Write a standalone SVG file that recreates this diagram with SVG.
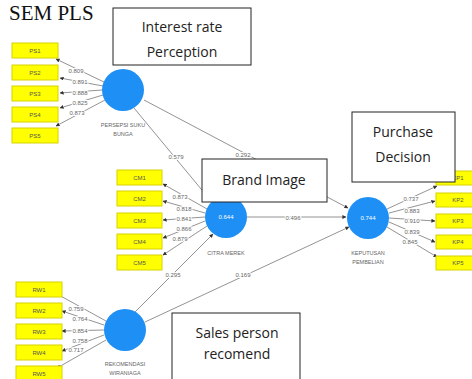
<svg xmlns="http://www.w3.org/2000/svg" width="472" height="379" viewBox="0 0 472 379">
<defs>
<marker id="ah" viewBox="0 0 10 10" refX="9" refY="5" markerWidth="5" markerHeight="5" orient="auto"><path d="M0,0 L10,5 L0,10 z" fill="#333"/></marker>
<style>
.ind rect{fill:#ffff00;stroke:#d6d200;stroke-width:1}
.ind text{font-family:"Liberation Sans",sans-serif;font-size:6px;fill:#555;text-anchor:middle}
.lv circle{fill:#1e8ff5}
.lv text{font-family:"Liberation Sans",sans-serif;font-size:5.5px;fill:#666;text-anchor:middle}
.lv text.r2{fill:#fff;font-size:6px}
.ann rect{fill:#fff;stroke:#222;stroke-width:1}
.ann text{font-family:"Open Sans","Liberation Sans",sans-serif;font-size:14px;fill:#222;text-anchor:middle}
.edge line{stroke:#777;stroke-width:0.8;marker-end:url(#ah)}
.w{font-family:"Liberation Sans",sans-serif;font-size:6px;fill:#666;text-anchor:middle;stroke:#fff;stroke-width:2.2;paint-order:stroke;stroke-linejoin:round}
</style>
</defs>
<rect width="472" height="379" fill="#fff"/>
<text x="9" y="20" font-family="Liberation Serif,serif" font-size="21" fill="#111">SEM PLS</text>

<g id="connectors" class="edge">
<line x1="104" y1="82" x2="56" y2="59"/>
<line x1="103" y1="86" x2="60" y2="78"/>
<line x1="102" y1="90" x2="60" y2="93"/>
<line x1="103" y1="95" x2="60" y2="108"/>
<line x1="105" y1="100" x2="56" y2="126"/>
<line x1="134" y1="108" x2="211" y2="201"/>
<line x1="144" y1="100" x2="348" y2="208"/>
<line x1="247" y1="217" x2="346" y2="217"/>
<line x1="135" y1="312" x2="213" y2="234"/>
<line x1="145" y1="322" x2="349" y2="227"/>
<line x1="207" y1="209" x2="163" y2="184"/>
<line x1="205" y1="213" x2="163" y2="201"/>
<line x1="205" y1="217" x2="163" y2="220"/>
<line x1="205" y1="221" x2="163" y2="238"/>
<line x1="207" y1="226" x2="163" y2="255"/>
<line x1="387" y1="209" x2="437" y2="186"/>
<line x1="389" y1="213" x2="435" y2="201"/>
<line x1="389" y1="218" x2="435" y2="221"/>
<line x1="389" y1="222" x2="435" y2="242"/>
<line x1="387" y1="227" x2="437" y2="257"/>
<line x1="106" y1="321" x2="57" y2="294"/>
<line x1="104" y1="325" x2="62" y2="311"/>
<line x1="104" y1="330" x2="62" y2="331"/>
<line x1="104" y1="335" x2="62" y2="351"/>
<line x1="106" y1="340" x2="57" y2="368"/>
</g>

<g id="weights">
<text class="w" x="76" y="73">0.809</text>
<text class="w" x="80" y="84">0.891</text>
<text class="w" x="80" y="95">0.888</text>
<text class="w" x="80" y="105">0.825</text>
<text class="w" x="77" y="115">0.873</text>
<text class="w" x="176" y="159">0.579</text>
<text class="w" x="243" y="157">0.292</text>
<text class="w" x="180" y="199">0.873</text>
<text class="w" x="184" y="211">0.818</text>
<text class="w" x="184" y="221">0.841</text>
<text class="w" x="184" y="231">0.866</text>
<text class="w" x="180" y="241">0.879</text>
<text class="w" x="293" y="220">0.496</text>
<text class="w" x="173" y="277">0.295</text>
<text class="w" x="243" y="277">0.169</text>
<text class="w" x="411" y="201">0.737</text>
<text class="w" x="412" y="213">0.883</text>
<text class="w" x="412" y="223">0.910</text>
<text class="w" x="412" y="234">0.839</text>
<text class="w" x="410" y="244">0.845</text>
<text class="w" x="76" y="311">0.759</text>
<text class="w" x="80" y="321">0.764</text>
<text class="w" x="80" y="333">0.854</text>
<text class="w" x="80" y="343">0.758</text>
<text class="w" x="76" y="352">0.717</text>
</g>

<g id="PS1" class="ind"><rect x="12" y="43" width="46" height="15"/><text x="35" y="52.5">PS1</text></g>
<g id="PS2" class="ind"><rect x="12" y="65" width="46" height="15"/><text x="35" y="74.5">PS2</text></g>
<g id="PS3" class="ind"><rect x="12" y="86" width="46" height="15"/><text x="35" y="95.5">PS3</text></g>
<g id="PS4" class="ind"><rect x="12" y="107" width="46" height="15"/><text x="35" y="116.5">PS4</text></g>
<g id="PS5" class="ind"><rect x="12" y="128" width="46" height="15"/><text x="35" y="137.5">PS5</text></g>

<g id="CM1" class="ind"><rect x="117" y="170" width="45" height="15"/><text x="139.5" y="179.5">CM1</text></g>
<g id="CM2" class="ind"><rect x="117" y="191" width="45" height="15"/><text x="139.5" y="200.5">CM2</text></g>
<g id="CM3" class="ind"><rect x="117" y="213" width="45" height="15"/><text x="139.5" y="222.5">CM3</text></g>
<g id="CM4" class="ind"><rect x="117" y="234" width="45" height="15"/><text x="139.5" y="243.5">CM4</text></g>
<g id="CM5" class="ind"><rect x="117" y="255" width="45" height="15"/><text x="139.5" y="264.5">CM5</text></g>

<g id="KP1" class="ind"><rect x="436" y="171" width="40" height="14"/><text x="458" y="180">KP1</text></g>
<g id="KP2" class="ind"><rect x="436" y="193" width="40" height="14"/><text x="458" y="202">KP2</text></g>
<g id="KP3" class="ind"><rect x="436" y="214" width="40" height="14"/><text x="458" y="223">KP3</text></g>
<g id="KP4" class="ind"><rect x="436" y="235" width="40" height="14"/><text x="458" y="244">KP4</text></g>
<g id="KP5" class="ind"><rect x="436" y="256" width="40" height="14"/><text x="458" y="265">KP5</text></g>

<g id="RW1" class="ind"><rect x="16" y="282" width="46" height="15"/><text x="39" y="291.5">RW1</text></g>
<g id="RW2" class="ind"><rect x="16" y="303" width="46" height="15"/><text x="39" y="312.5">RW2</text></g>
<g id="RW3" class="ind"><rect x="16" y="324" width="46" height="15"/><text x="39" y="333.5">RW3</text></g>
<g id="RW4" class="ind"><rect x="16" y="345" width="46" height="15"/><text x="39" y="354.5">RW4</text></g>
<g id="RW5" class="ind"><rect x="16" y="366" width="46" height="15"/><text x="39" y="375.5">RW5</text></g>

<g id="persepsi" class="lv"><circle cx="123" cy="90" r="21"/><text x="123" y="127">PERSEPSI SUKU</text><text x="123" y="136">BUNGA</text></g>
<g id="citra" class="lv"><circle cx="226" cy="217" r="21"/><text class="r2" x="226" y="219">0.644</text><text x="226" y="255">CITRA MEREK</text></g>
<g id="keputusan" class="lv"><circle cx="368" cy="218" r="21"/><text class="r2" x="368" y="220">0.744</text><text x="368" y="255">KEPUTUSAN</text><text x="368" y="264">PEMBELIAN</text></g>
<g id="rekomendasi" class="lv"><circle cx="125" cy="330" r="21"/><text x="125" y="366">REKOMENDASI</text><text x="125" y="375">WIRANIAGA</text></g>

<g id="ann-interest" class="ann"><rect x="113" y="8" width="138" height="57"/><text x="182" y="32">Interest rate</text><text x="182" y="57">Perception</text></g>
<g id="ann-brand" class="ann"><rect x="202" y="159" width="125" height="43"/><text x="264" y="185">Brand Image</text></g>
<g id="ann-purchase" class="ann"><rect x="352" y="112" width="103" height="70"/><text x="403" y="137">Purchase</text><text x="403" y="162">Decision</text></g>
<g id="ann-sales" class="ann"><rect x="172" y="313" width="128" height="70"/><text x="237" y="338">Sales person</text><text x="237" y="359">recomend</text></g>
</svg>
